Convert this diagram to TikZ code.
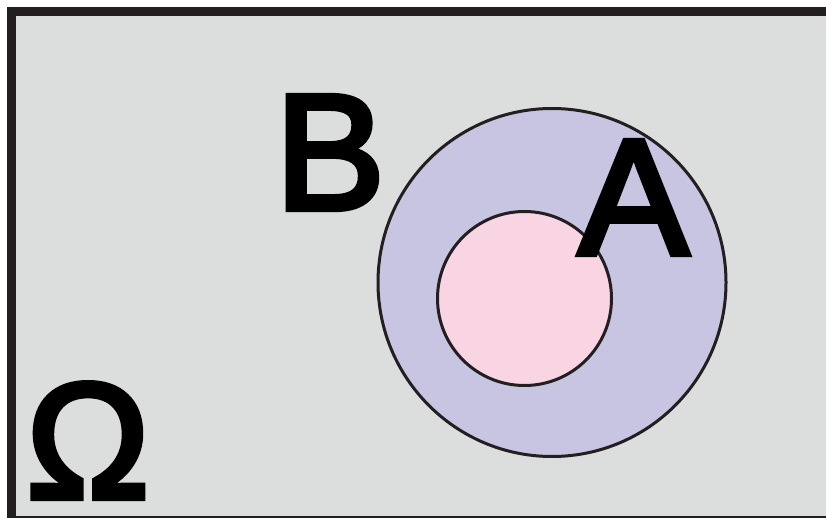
\documentclass[tikz,border=0pt]{standalone}
\usepackage{fontspec}
\setmainfont{Liberation Sans}
\newfontfamily\labelfont[FakeBold=3.5]{Liberation Sans}
\usetikzlibrary{positioning}
\definecolor{framegray}{RGB}{35,31,32}
\definecolor{bggray}{RGB}{220,221,221}
\definecolor{setB}{RGB}{200,197,226}
\definecolor{setA}{RGB}{249,213,228}
\tikzset{
	setlabel/.style={inner sep=0pt, font=\labelfont\fontsize{165}{165}\selectfont},
	setline/.style={line width=3pt, color=framegray}
}

\begin{document}
\begin{tikzpicture}[x=1pt, y=-1pt]
			%%%%% START %%%%%
			\useasboundingbox (0, 0) rectangle (826, 518);
			\clip (0, 0) rectangle (826, 518);
			
			\draw[line width=9pt, color=framegray, fill=bggray] (11.5, 11.5) rectangle (840, 520);
			
			\draw[setline, fill=setB] (552, 282.5) circle (174);
			\draw[setline, fill=setA] (524.5, 298.5) circle (87);
			
			\node[setlabel] (labB) at (330, 152.5) {B};
			\node[setlabel] (labA) at (633.5, 197.5) {A};
			\node[setlabel] (labOmega) at (88, 440.5) {Ω};
			%%%%% END %%%%%
\end{tikzpicture}
\end{document}
